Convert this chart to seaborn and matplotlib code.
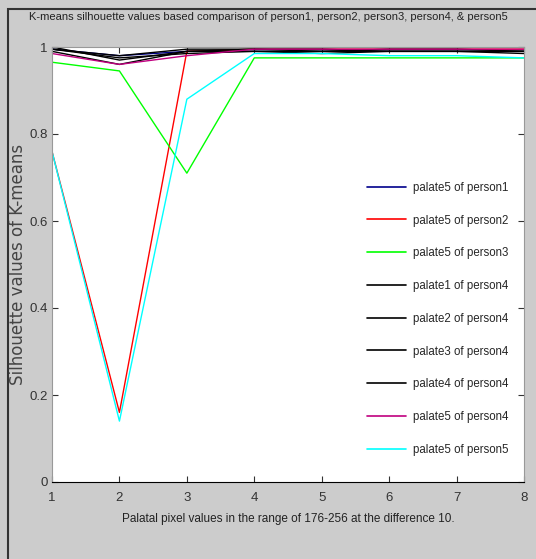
import numpy as np
import pandas as pd
import matplotlib
matplotlib.use("Agg")
import matplotlib.pyplot as plt
from matplotlib.patches import Rectangle
import seaborn as sns

# pixel values (x axis) 1..8
x_vals = [1, 2, 3, 4, 5, 6, 7, 8]

series_names = [
    'palate5 of person1', 'palate5 of person2', 'palate5 of person3',
    'palate1 of person4', 'palate2 of person4', 'palate3 of person4',
    'palate4 of person4', 'palate5 of person4', 'palate5 of person5',
]
p1_palate5 = [0.995, 0.98, 0.99, 0.99, 0.99, 0.99, 0.99, 0.99]
p2_palate5 = [0.76, 0.16, 0.99, 0.995, 0.995, 0.995, 0.995, 0.995]
p3_palate5 = [0.965, 0.945, 0.71, 0.975, 0.975, 0.975, 0.975, 0.975]
p4_palate1 = [1.0, 0.97, 0.99, 0.995, 0.995, 0.99, 0.99, 0.99]
p4_palate2 = [0.995, 0.975, 0.985, 0.99, 0.985, 0.99, 0.99, 0.985]
p4_palate3 = [0.99, 0.96, 0.99, 0.99, 0.99, 0.995, 0.995, 0.99]
p4_palate4 = [0.995, 0.98, 0.995, 0.995, 0.99, 0.99, 0.99, 0.99]
p4_palate5 = [0.985, 0.96, 0.98, 0.995, 0.995, 0.995, 0.995, 0.995]
p5_palate5 = [0.76, 0.14, 0.88, 0.985, 0.985, 0.98, 0.98, 0.975]

all_values = [p1_palate5, p2_palate5, p3_palate5, p4_palate1, p4_palate2,
              p4_palate3, p4_palate4, p4_palate5, p5_palate5]
colors = ['#00008b', '#ff0000', '#00ff00', '#000000', '#000000',
          '#000000', '#000000', '#c0007f', '#00ffff']

rows = []
for name, vals in zip(series_names, all_values):
    for xv, yv in zip(x_vals, vals):
        rows.append({'pixel': xv, 'silhouette': yv, 'series': name})
df = pd.DataFrame(rows)

sns.set_style('white')
narrow = ['Liberation Sans Narrow', 'Liberation Sans', 'DejaVu Sans']
plt.rcParams['font.family'] = narrow

fig = plt.figure(figsize=(5.36, 5.59), dpi=100, facecolor='#cccccc')
ax = fig.add_axes([52 / 536, 1 - 482 / 559, 472 / 536, 435 / 559])
ax.set_facecolor('white')

sns.lineplot(data=df, x='pixel', y='silhouette', hue='series',
             hue_order=series_names, palette=dict(zip(series_names, colors)),
             sort=False, linewidth=1.0, ax=ax, legend=False)

ax.set_xlim(1, 8)
ax.set_ylim(0, 1)
ax.set_xticks(x_vals)
ax.set_yticks([0, 0.2, 0.4, 0.6, 0.8, 1])
ax.set_yticklabels(['0', '0.2', '0.4', '0.6', '0.8', '1'])
ax.tick_params(direction='in', length=4, labelsize=9.5, colors='#333333',
               left=True, bottom=True, top=True, right=True)
ax.tick_params(axis='x', pad=7)
ax.tick_params(axis='y', pad=3)
for side in ['left', 'top', 'right']:
    ax.spines[side].set_color('#999999')
ax.spines['bottom'].set_color('black')

ax.set_xlabel('Palatal pixel values in the range of 176-256 at the difference 10.',
              fontsize=8.5, color='#222222', labelpad=7)
ax.set_ylabel('Silhouette values of K-means', fontsize=12, color='#444444',
              family=['DejaVu Sans'])
ax.yaxis.set_label_coords(-0.052, 0.5)
fig.text(0.5, 1 - 17 / 559,
         'K-means silhouette values based comparison of person1, person2, person3, person4, & person5',
         ha='center', va='center', fontsize=8.0, color='#222222')

handles = [plt.Line2D([], [], color=c, linewidth=1.2) for c in colors]
ax.legend(handles, series_names, loc='upper left', frameon=False,
          bbox_to_anchor=(361 / 536, 1 - 176 / 559), bbox_transform=fig.transFigure,
          fontsize=8.3, labelspacing=1.8, handlelength=3.4, handletextpad=0.6,
          borderpad=0)

# outer dark border of the figure window
fig.patches.append(Rectangle((8 / 536, -0.1), 1.2, 1 - 9 / 559 + 0.1,
                             transform=fig.transFigure, fill=False,
                             edgecolor='#333333', linewidth=1.5))

fig.savefig('out.png', dpi=100, facecolor=fig.get_facecolor())
